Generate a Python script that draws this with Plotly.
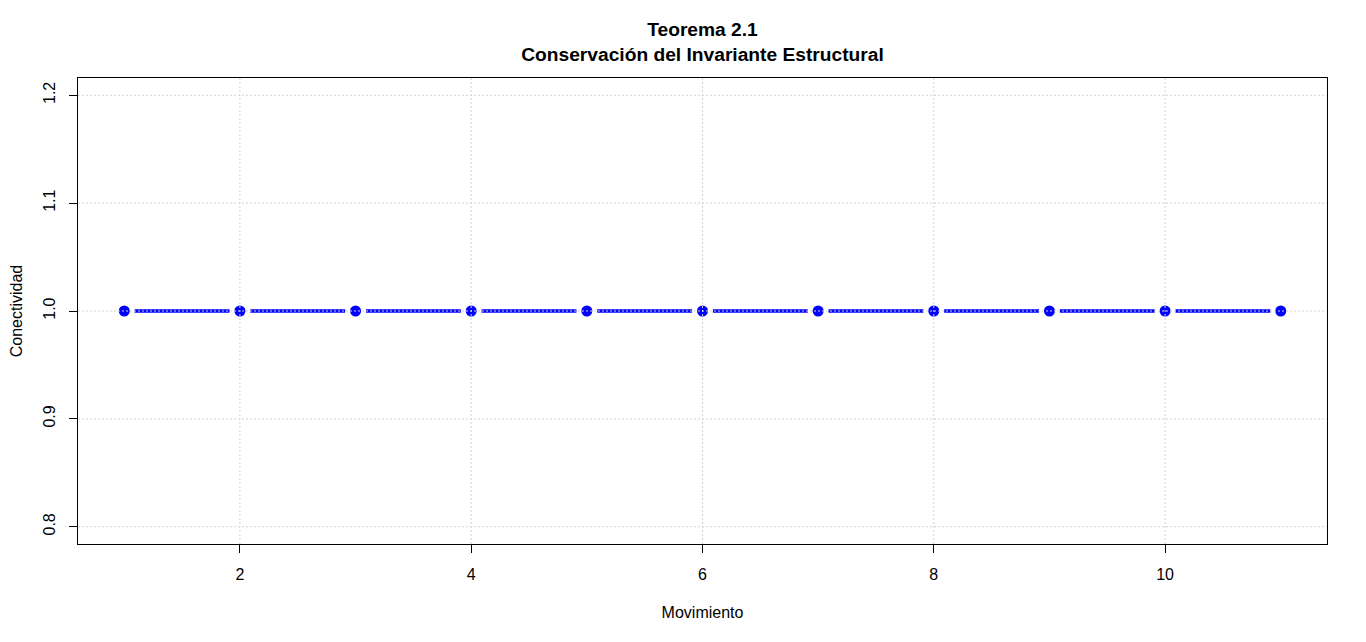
import numpy as np
import plotly.graph_objects as go

# datos: conectividad a lo largo de los movimientos
movimiento = list(range(1, 12))
conectividad = [1, 1, 1, 1, 1, 1, 1, 1, 1, 1, 1]

x_ticks = [2, 4, 6, 8, 10]
y_ticks = [0.8, 0.9, 1.0, 1.1, 1.2]

if __name__ == '__main__':
    fig = go.Figure()

    # segmentos con hueco alrededor de cada punto (estilo type="b" de R)
    gap = 0.09
    seg_x, seg_y = [], []
    for i in range(len(movimiento) - 1):
        seg_x += [movimiento[i] + gap, movimiento[i + 1] - gap, None]
        seg_y += [conectividad[i], conectividad[i + 1], None]

    fig.add_trace(go.Scatter(
        x=seg_x, y=seg_y, mode='lines',
        line=dict(color='#0000ff', width=3.5),
        hoverinfo='skip', showlegend=False
    ))
    fig.add_trace(go.Scatter(
        x=movimiento, y=conectividad, mode='markers',
        marker=dict(color='#0000ff', size=11, line=dict(width=0)),
        showlegend=False
    ))

    # rejilla punteada dibujada encima (como grid() despues del plot)
    grid = dict(color='#d3d3d3', width=1, dash='2px,2px')
    for xv in x_ticks:
        fig.add_shape(type='line', xref='x', yref='paper', x0=xv, x1=xv,
                      y0=0, y1=1, line=grid, layer='above')
    for yv in y_ticks:
        fig.add_shape(type='line', xref='paper', yref='y', x0=0, x1=1,
                      y0=yv, y1=yv, line=grid, layer='above')

    fam = 'Liberation Sans, Arial'
    axis_common = dict(
        showgrid=False, zeroline=False, automargin=False,
        showline=True, linecolor='black', linewidth=1, mirror=True,
        ticks='outside', ticklen=8, tickcolor='black', tickwidth=1,
        tickfont=dict(family=fam, size=16, color='black'),
    )

    fig.update_layout(
        width=1366, height=642,
        paper_bgcolor='white', plot_bgcolor='white',
        margin=dict(l=70, r=47, t=70, b=106),
        title=dict(
            text='<b>Teorema 2.1<br>Conservación del Invariante Estructural</b>',
            x=0.5, xref='paper', y=1 - 28 / 642, yref='container',
            xanchor='center', yanchor='middle',
            font=dict(family=fam, size=19.2, color='black'),
        ),
        xaxis=dict(
            range=[0.6, 11.4], tickvals=x_ticks, ticklabelstandoff=8,
            title=dict(text='Movimiento', standoff=24,
                       font=dict(family=fam, size=16, color='black')),
            **axis_common
        ),
        yaxis=dict(
            range=[0.784, 1.216], tickvals=y_ticks, tickformat='.1f',
            tickangle=-90, ticklabelstandoff=8,
            title=dict(text='Conectividad', standoff=17,
                       font=dict(family=fam, size=16, color='black')),
            **axis_common
        ),
        font=dict(family=fam, color='black'),
    )

    fig.write_html('out.html')
